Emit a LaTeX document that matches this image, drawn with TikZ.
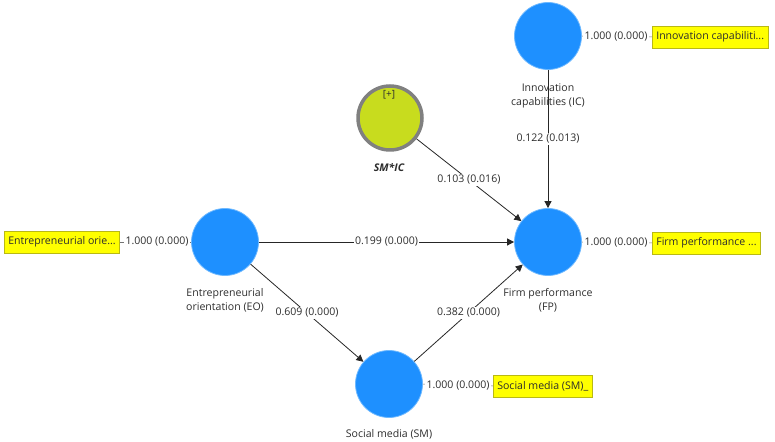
\documentclass[tikz,border=0pt]{standalone}
\usepackage{fontspec}
\setmainfont{Open Sans}
\usetikzlibrary{arrows.meta}
\definecolor{lvblue}{RGB}{30,144,255}
\definecolor{lvedge}{RGB}{110,185,255}
\definecolor{intgreen}{RGB}{200,220,30}
\definecolor{intgray}{RGB}{128,128,128}
\definecolor{boxyellow}{RGB}{255,255,0}
\definecolor{boxedge}{RGB}{185,185,20}
\definecolor{txt}{RGB}{45,45,45}
\begin{document}
\begin{tikzpicture}[x=1bp,y=-1bp,
  every node/.style={font=\fontsize{10.6}{14}\selectfont, text=txt},
  lv/.style={circle, fill=lvblue, draw=lvedge, line width=0.8bp, minimum size=67bp, inner sep=0},
  inter/.style={circle, fill=intgreen, draw=intgray, line width=3.5bp, minimum size=64bp, inner sep=0},
  ind/.style={fill=boxyellow, draw=boxedge, line width=0.6bp, minimum height=22bp, inner xsep=4bp, inner ysep=0bp, anchor=west},
  val/.style={fill=white, inner sep=1.5bp},
  captxt/.style={align=center},
  pathc/.style={draw=black!85, line width=0.8bp, -{Triangle[length=7bp,width=7bp]}},
  link/.style={draw=black!55, line width=0.5bp},
]
\useasboundingbox (0,0) rectangle (775,442);

% constructs
\node[lv] (EO) at (225,242) {};
\node[lv] (FP) at (548,242) {};
\node[lv] (IC) at (548,36) {};
\node[lv] (SM) at (389,384) {};
\node[inter] (INT) at (390,118) {};
\node[font=\fontsize{10}{12}\selectfont] (INTplus) at (389,95) {[+]};

% captions
\node[captxt] (EOc) at (225,300) {Entrepreneurial\\orientation (EO)};
\node[captxt] (FPc) at (548,300) {Firm performance\\(FP)};
\node[captxt] (SMc) at (389,434) {Social media (SM)};
\node[captxt, font=\fontsize{10.6}{14}\selectfont\bfseries\itshape] (INTc) at (389,167) {SM*IC};

% indicators
\node[ind] (EOi) at (4,242) {Entrepreneurial orie...};
\node[ind] (ICi) at (652,37) {Innovation capabiliti...};
\node[ind] (FPi) at (652,243) {Firm performance ...};
\node[ind] (SMi) at (493,386) {Social media (SM)\_};

\draw[link] (EOi.east) -- (EO.west);
\draw[link] (IC.east) -- (ICi.west);
\draw[link] (FP.east) -- (FPi.west);
\draw[link] (SM.east) -- (SMi.west);

\node[val] (vEO) at (157,242) {1.000 (0.000)};
\node[val] (vIC) at (616,37) {1.000 (0.000)};
\node[val] (vFP) at (616,243) {1.000 (0.000)};
\node[val] (vSM) at (458,386) {1.000 (0.000)};

% structural paths
\draw[pathc] (IC) -- node[val] (pIC) {0.122 (0.013)} (FP);
\node[captxt] (ICc) at (548,96) {Innovation\\capabilities (IC)};
\draw[pathc] (INT) -- node[val] (pINT) {0.103 (0.016)} (FP);
\draw[pathc] (EO) -- node[val] (pEO) {0.199 (0.000)} (FP);
\draw[pathc] (EO) -- node[val] (pEOSM) {0.609 (0.000)} (SM);
\draw[pathc] (SM) -- node[val] (pSM) {0.382 (0.000)} (FP);
\end{tikzpicture}
\end{document}
